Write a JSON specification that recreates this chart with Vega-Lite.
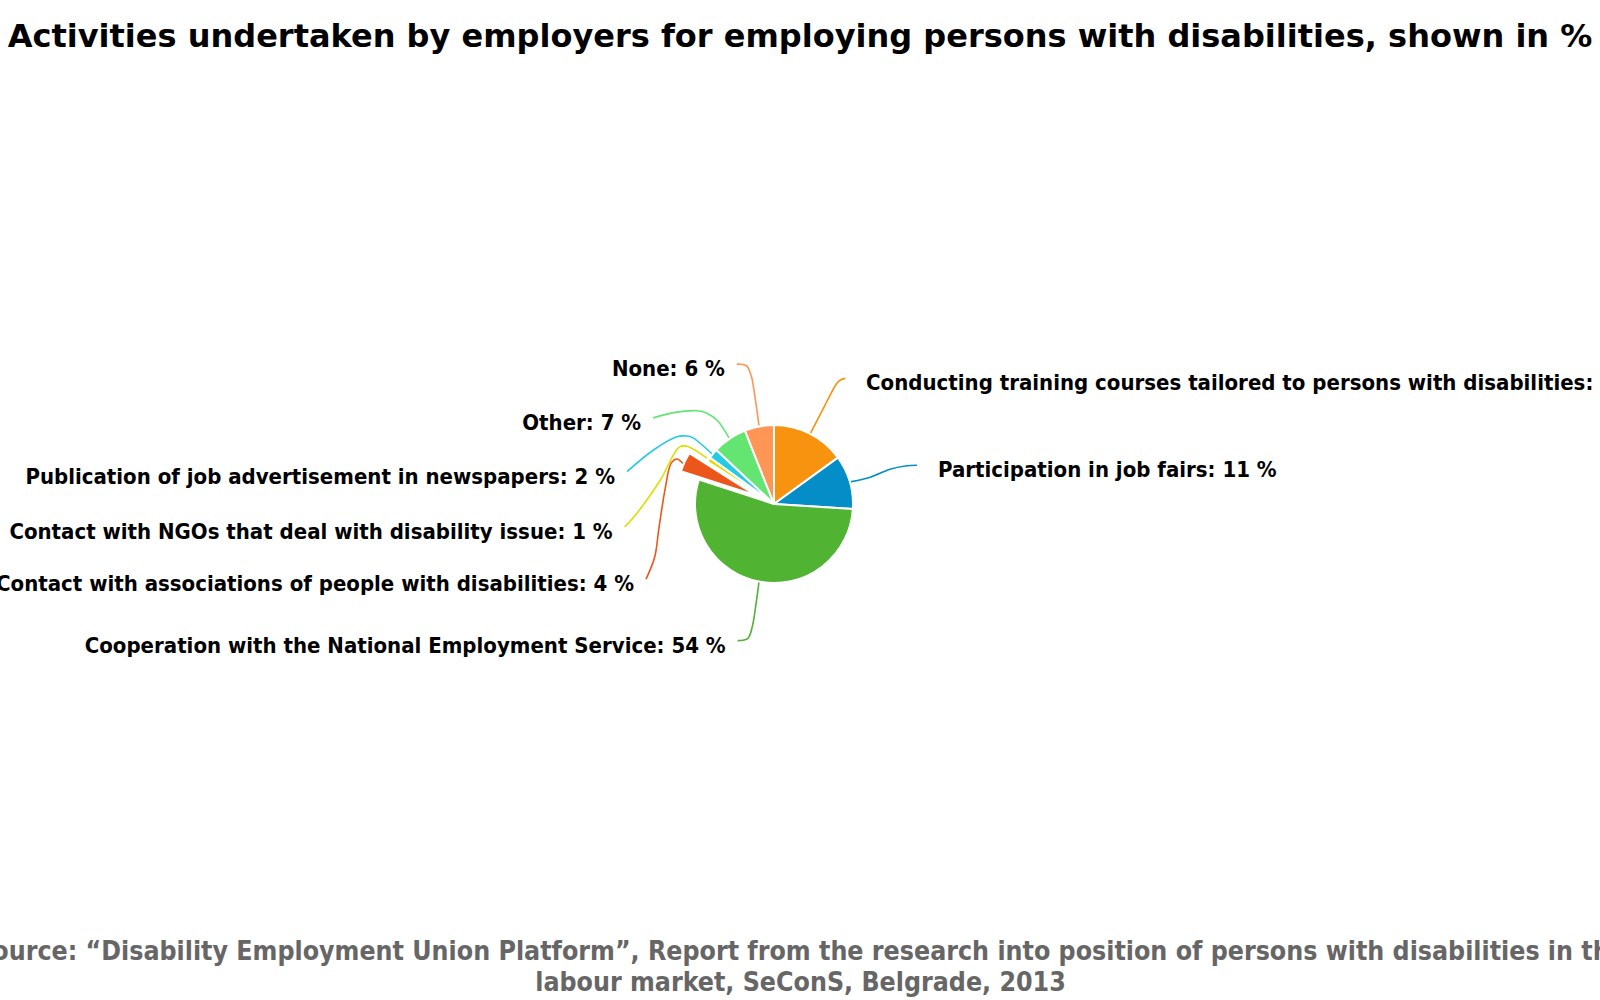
{
  "$schema": "https://vega.github.io/schema/vega-lite/v6.json",
  "autosize": "none",
  "width": 1600,
  "height": 860,
  "padding": {"left": 0, "right": 0, "top": 70, "bottom": 70},
  "background": "white",
  "title": {
    "text": "Activities undertaken by employers for employing persons with disabilities, shown in %",
    "font": "DejaVu Sans",
    "fontSize": 32,
    "fontWeight": "bold",
    "color": "#000000",
    "anchor": "middle",
    "offset": 16
  },
  "config": {"view": {"stroke": null}},
  "datasets": {
    "shares": [
      {"activity": "Conducting training courses tailored to persons with disabilities", "value": 15},
      {"activity": "Participation in job fairs", "value": 11},
      {"activity": "Cooperation with the National Employment Service", "value": 54},
      {"activity": "Contact with associations of people with disabilities", "value": 4},
      {"activity": "Contact with NGOs that deal with disability issue", "value": 1},
      {"activity": "Publication of job advertisement in newspapers", "value": 2},
      {"activity": "Other", "value": 7},
      {"activity": "None", "value": 6}
    ],
    "leaders": [
      {"activity": "Conducting training courses tailored to persons with disabilities", "step": 0, "x": 0.90, "y": 1.59},
      {"activity": "Conducting training courses tailored to persons with disabilities", "step": 1, "x": 0.84, "y": 1.57},
      {"activity": "Conducting training courses tailored to persons with disabilities", "step": 2, "x": 0.79, "y": 1.52},
      {"activity": "Conducting training courses tailored to persons with disabilities", "step": 3, "x": 0.63, "y": 1.22},
      {"activity": "Conducting training courses tailored to persons with disabilities", "step": 4, "x": 0.46, "y": 0.89},
      {"activity": "Participation in job fairs", "step": 0, "x": 1.81, "y": 0.49},
      {"activity": "Participation in job fairs", "step": 1, "x": 1.66, "y": 0.48},
      {"activity": "Participation in job fairs", "step": 2, "x": 1.47, "y": 0.44},
      {"activity": "Participation in job fairs", "step": 3, "x": 1.22, "y": 0.34},
      {"activity": "Participation in job fairs", "step": 4, "x": 0.96, "y": 0.28},
      {"activity": "Cooperation with the National Employment Service", "step": 0, "x": -0.46, "y": -1.73},
      {"activity": "Cooperation with the National Employment Service", "step": 1, "x": -0.33, "y": -1.70},
      {"activity": "Cooperation with the National Employment Service", "step": 2, "x": -0.27, "y": -1.53},
      {"activity": "Cooperation with the National Employment Service", "step": 3, "x": -0.23, "y": -1.28},
      {"activity": "Cooperation with the National Employment Service", "step": 4, "x": -0.19, "y": -0.99},
      {"activity": "Contact with associations of people with disabilities", "step": 0, "x": -1.62, "y": -0.95},
      {"activity": "Contact with associations of people with disabilities", "step": 1, "x": -1.51, "y": -0.67},
      {"activity": "Contact with associations of people with disabilities", "step": 2, "x": -1.46, "y": -0.33},
      {"activity": "Contact with associations of people with disabilities", "step": 3, "x": -1.38, "y": 0.18},
      {"activity": "Contact with associations of people with disabilities", "step": 4, "x": -1.30, "y": 0.52},
      {"activity": "Contact with associations of people with disabilities", "step": 5, "x": -1.23, "y": 0.57},
      {"activity": "Contact with associations of people with disabilities", "step": 6, "x": -1.15, "y": 0.51},
      {"activity": "Contact with NGOs that deal with disability issue", "step": 0, "x": -1.89, "y": -0.29},
      {"activity": "Contact with NGOs that deal with disability issue", "step": 1, "x": -1.73, "y": -0.11},
      {"activity": "Contact with NGOs that deal with disability issue", "step": 2, "x": -1.44, "y": 0.30},
      {"activity": "Contact with NGOs that deal with disability issue", "step": 3, "x": -1.20, "y": 0.72},
      {"activity": "Contact with NGOs that deal with disability issue", "step": 4, "x": -1.10, "y": 0.73},
      {"activity": "Contact with NGOs that deal with disability issue", "step": 5, "x": -0.85, "y": 0.58},
      {"activity": "Publication of job advertisement in newspapers", "step": 0, "x": -1.86, "y": 0.41},
      {"activity": "Publication of job advertisement in newspapers", "step": 1, "x": -1.53, "y": 0.68},
      {"activity": "Publication of job advertisement in newspapers", "step": 2, "x": -1.23, "y": 0.85},
      {"activity": "Publication of job advertisement in newspapers", "step": 3, "x": -1.10, "y": 0.86},
      {"activity": "Publication of job advertisement in newspapers", "step": 4, "x": -1.03, "y": 0.84},
      {"activity": "Publication of job advertisement in newspapers", "step": 5, "x": -0.77, "y": 0.62},
      {"activity": "Other", "step": 0, "x": -1.53, "y": 1.09},
      {"activity": "Other", "step": 1, "x": -1.25, "y": 1.16},
      {"activity": "Other", "step": 2, "x": -0.97, "y": 1.18},
      {"activity": "Other", "step": 3, "x": -0.85, "y": 1.15},
      {"activity": "Other", "step": 4, "x": -0.72, "y": 1.06},
      {"activity": "Other", "step": 5, "x": -0.56, "y": 0.82},
      {"activity": "None", "step": 0, "x": -0.47, "y": 1.77},
      {"activity": "None", "step": 1, "x": -0.35, "y": 1.75},
      {"activity": "None", "step": 2, "x": -0.29, "y": 1.63},
      {"activity": "None", "step": 3, "x": -0.24, "y": 1.35},
      {"activity": "None", "step": 4, "x": -0.19, "y": 0.99}
    ]
  },
  "layer": [
    {
      "data": {"name": "leaders"},
      "mark": {"type": "line", "interpolate": "catmull-rom", "strokeWidth": 1.6},
      "encoding": {
        "x": {
          "field": "x",
          "type": "quantitative",
          "scale": {"domain": [-9.7975, 10.4557], "nice": false, "zero": false},
          "axis": {
            "title": [
              "Source: “Disability Employment Union Platform”, Report from the research into position of persons with disabilities in the",
              "labour market, SeConS, Belgrade, 2013"
            ],
            "labels": false,
            "ticks": false,
            "domain": false,
            "grid": false,
            "titleFont": "DejaVu Sans Condensed",
            "titleFontSize": 26.5,
            "titleFontWeight": "bold",
            "titleColor": "#666666",
            "titleLineHeight": 31,
            "titlePadding": 8
          }
        },
        "y": {
          "field": "y",
          "type": "quantitative",
          "scale": {"domain": [-5.3924, 5.4937], "nice": false, "zero": false},
          "axis": null
        },
        "detail": {"field": "activity"},
        "order": {"field": "step"},
        "color": {
          "field": "activity",
          "type": "nominal",
          "scale": {
            "domain": [
              "Conducting training courses tailored to persons with disabilities",
              "Participation in job fairs",
              "Cooperation with the National Employment Service",
              "Contact with associations of people with disabilities",
              "Contact with NGOs that deal with disability issue",
              "Publication of job advertisement in newspapers",
              "Other",
              "None"
            ],
            "range": ["#F7930F", "#058DC7", "#50B432", "#ED561B", "#DDDF00", "#24CBE5", "#64E572", "#FF9655"]
          },
          "legend": null
        }
      }
    },
    {
      "data": {"name": "shares"},
      "transform": [
        {"window": [{"op": "row_number", "as": "idx"}]},
        {"stack": "value", "groupby": [], "sort": [{"field": "idx"}], "as": ["v0", "v1"]},
        {"filter": "datum.activity !== 'Contact with associations of people with disabilities'"}
      ],
      "mark": {"type": "arc", "radius": 79, "stroke": "white", "strokeWidth": 2},
      "encoding": {
        "x": {"datum": 0, "type": "quantitative"},
        "y": {"datum": 0, "type": "quantitative"},
        "theta": {"field": "v0", "type": "quantitative", "scale": {"domain": [0, 100]}},
        "theta2": {"field": "v1"},
        "color": {"field": "activity", "type": "nominal", "legend": null}
      }
    },
    {
      "data": {"name": "shares"},
      "transform": [
        {"window": [{"op": "row_number", "as": "idx"}]},
        {"stack": "value", "groupby": [], "sort": [{"field": "idx"}], "as": ["v0", "v1"]},
        {"filter": "datum.activity === 'Contact with associations of people with disabilities'"}
      ],
      "mark": {"type": "arc", "radius": 79, "stroke": "white", "strokeWidth": 2, "xOffset": -18, "yOffset": -8.5},
      "encoding": {
        "x": {"datum": 0, "type": "quantitative"},
        "y": {"datum": 0, "type": "quantitative"},
        "theta": {"field": "v0", "type": "quantitative"},
        "theta2": {"field": "v1"},
        "color": {"field": "activity", "type": "nominal", "legend": null}
      }
    },
    {
      "data": {"name": "leaders"},
      "transform": [
        {"filter": "datum.step === 0 && datum.x < 0"},
        {"lookup": "activity", "from": {"data": {"name": "shares"}, "key": "activity", "fields": ["value"]}},
        {"calculate": "datum.activity + ': ' + datum.value + ' %'", "as": "label"}
      ],
      "mark": {"type": "text", "align": "right", "baseline": "middle", "dx": -12, "dy": 5, "font": "DejaVu Sans Condensed", "fontSize": 22, "fontWeight": "bold", "color": "#000000"},
      "encoding": {
        "x": {"field": "x", "type": "quantitative"},
        "y": {"field": "y", "type": "quantitative"},
        "text": {"field": "label"}
      }
    },
    {
      "data": {"name": "leaders"},
      "transform": [
        {"filter": "datum.step === 0 && datum.x > 0"},
        {"lookup": "activity", "from": {"data": {"name": "shares"}, "key": "activity", "fields": ["value"]}},
        {"calculate": "datum.activity + ': ' + datum.value + ' %'", "as": "label"}
      ],
      "mark": {"type": "text", "align": "left", "baseline": "middle", "dx": 21, "dy": 5, "font": "DejaVu Sans Condensed", "fontSize": 22, "fontWeight": "bold", "color": "#000000"},
      "encoding": {
        "x": {"field": "x", "type": "quantitative"},
        "y": {"field": "y", "type": "quantitative"},
        "text": {"field": "label"}
      }
    }
  ]
}
